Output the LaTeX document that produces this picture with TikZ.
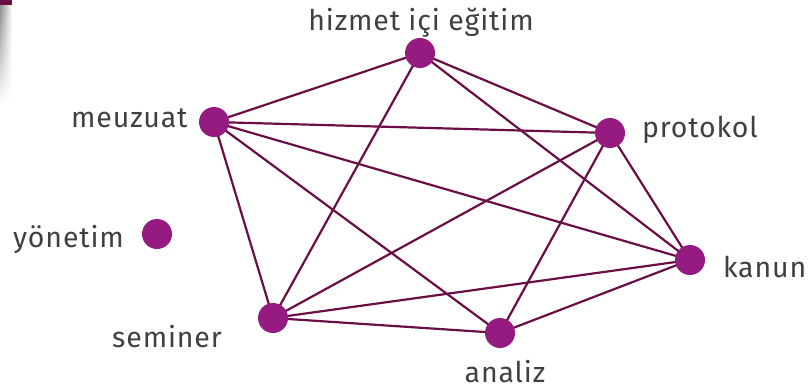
\documentclass[tikz,border=0pt]{standalone}
\usepackage{fontspec}
\setmainfont{Fira Sans}[LetterSpace=3]
\usetikzlibrary{fadings}
\definecolor{dotc}{HTML}{951B81}
\definecolor{edgec}{HTML}{6A0F45}
\definecolor{txtc}{HTML}{404040}
\tikzset{
  dot/.style={circle,fill=dotc,minimum size=30pt,inner sep=0pt},
  link/.style={draw=edgec,line width=2.2pt},
  lbl/.style={text=txtc,font=\fontsize{28.5}{30}\selectfont,inner sep=0pt}
}
\begin{document}
\begin{tikzpicture}[x=1pt,y=-1pt]
\useasboundingbox (0,0) rectangle (810,391);
\shade[left color=black!45,right color=white,path fading=south] (0,4) rectangle (12,105);
\fill[edgec] (0,0) rectangle (12,5);
\coordinate (hiz) at (420,53);
\coordinate (mev) at (214,122);
\coordinate (yon) at (157,234);
\coordinate (pro) at (610,133);
\coordinate (kan) at (690,260);
\coordinate (sem) at (273,318);
\coordinate (ana) at (500,333);
\foreach \a/\b in {hiz/mev,hiz/pro,hiz/kan,hiz/sem,mev/pro,mev/kan,mev/ana,mev/sem,pro/sem,pro/ana,pro/kan,kan/sem,kan/ana,sem/ana}
  \draw[link] (\a) -- (\b);
\node[dot] (nhiz) at (hiz) {};
\node[dot] (nmev) at (mev) {};
\node[dot] (nyon) at (yon) {};
\node[dot] (npro) at (pro) {};
\node[dot] (nkan) at (kan) {};
\node[dot] (nsem) at (sem) {};
\node[dot] (nana) at (ana) {};
\node[lbl,anchor=base] (lhiz) at (421,30) {hizmet içi eğitim};
\node[lbl,anchor=base west] (lmev) at (71,127) {meuzuat};
\node[lbl,anchor=base west] (lyon) at (13,247) {yönetim};
\node[lbl,anchor=base west] (lpro) at (642,137) {protokol};
\node[lbl,anchor=base west] (lkan) at (723,277) {kanun};
\node[lbl,anchor=base west] (lsem) at (112,347) {seminer};
\node[lbl,anchor=base] (lana) at (505,382) {analiz};
\end{tikzpicture}
\end{document}
